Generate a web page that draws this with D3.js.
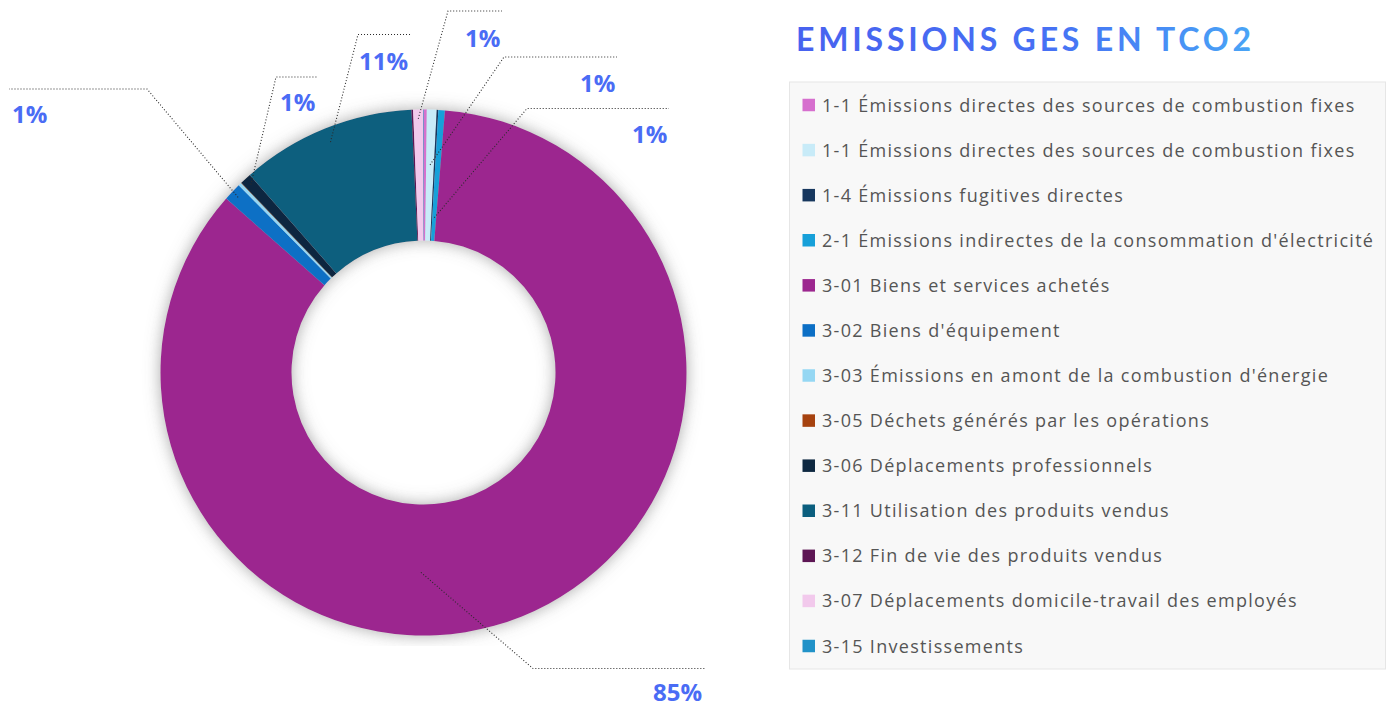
<!DOCTYPE html>
<html>
<head>
<meta charset="utf-8">
<script src="https://cdn.jsdelivr.net/npm/d3@7"></script>
<style>
  html, body { margin: 0; padding: 0; background: #ffffff; }
  svg { display: block; }
</style>
</head>
<body>
<svg id="chart" width="1391" height="708"></svg>
<script>
// ---------- DATA ----------
const categories = [
  "1-1 Émissions directes des sources de combustion fixes",
  "1-1 Émissions directes des sources de combustion fixes",
  "1-4 Émissions fugitives directes",
  "2-1 Émissions indirectes de la consommation d'électricité",
  "3-01 Biens et services achetés",
  "3-02 Biens d'équipement",
  "3-03 Émissions en amont de la combustion d'énergie",
  "3-05 Déchets générés par les opérations",
  "3-06 Déplacements professionnels",
  "3-11 Utilisation des produits vendus",
  "3-12 Fin de vie des produits vendus",
  "3-07 Déplacements domicile-travail des employés",
  "3-15 Investissements"
];
// share of total emissions (%)
const values = [0.2, 0.6, 0.1, 0.4, 85.2, 1.1, 0.2, 0.02, 0.7, 10.75, 0.1, 0.6, 0.03];
const colors = [
  "#d66fce", "#c8ebf8", "#17375e", "#17a0d9", "#9c278f", "#0c6fc5",
  "#95d7f3", "#a6420f", "#0e2841", "#0b5e7e", "#5d1654", "#f2c9ec", "#2192c8"
];
// which slices carry a data label, and the label text
const labelIndex = [5, 8, 9, 11, 1, 3, 4];
const labelText  = ["1%", "1%", "11%", "1%", "1%", "1%", "85%"];
const titleText = "EMISSIONS GES EN TCO2";

// ---------- LAYOUT (annotation placement) ----------
const cx = 423.5, cy = 372.5, R = 263, r0 = 132;
const labelLayout = [
  { rf: 0.97,  t: 0.5,   elbow: [147, 89],   end: [9, 89],     tx: 12,  ty: 123 },
  { rf: 0.97,  t: 0.5,   elbow: [276, 77],   end: [317, 77],   tx: 280, ty: 111 },
  { rf: 0.945, t: 0.5,   elbow: [358, 34.5], end: [411, 34.5], tx: 359, ty: 70 },
  { rf: 0.965, t: 0.5,   elbow: [448, 11],   end: [502, 11],   tx: 465, ty: 46.5 },
  { rf: 0.79,  t: 0.5,   elbow: [504, 57],   end: [617, 57],   tx: 580, ty: 91.5 },
  { rf: 0.59,  t: 0.5,   elbow: [527, 108.5],end: [669, 108.5],tx: 632, ty: 143 },
  { rf: 0.76,  t: 0.574, elbow: [533, 668.5],end: [705, 668.5],tx: 653, ty: 701 }
];

const svg = d3.select("#chart");
const defs = svg.append("defs");

// soft shadow behind donut, clipped to plot area
const f = defs.append("filter").attr("id", "shadow")
  .attr("filterUnits", "userSpaceOnUse")
  .attr("x", 140).attr("y", 82).attr("width", 565).attr("height", 564);
f.append("feGaussianBlur").attr("in", "SourceAlpha").attr("stdDeviation", 8).attr("result", "b");
f.append("feFlood").attr("flood-color", "#6e6e6e").attr("flood-opacity", 0.6).attr("result", "c");
f.append("feComposite").attr("in", "c").attr("in2", "b").attr("operator", "in").attr("result", "s");
const fm = f.append("feMerge");
fm.append("feMergeNode").attr("in", "s");
fm.append("feMergeNode").attr("in", "SourceGraphic");

// title gradient
const g1 = defs.append("linearGradient").attr("id", "tgrad")
  .attr("gradientUnits", "userSpaceOnUse").attr("x1", 796).attr("x2", 1251).attr("y1", 0).attr("y2", 0);
g1.append("stop").attr("offset", 0).attr("stop-color", "#4862ef");
g1.append("stop").attr("offset", 0.55).attr("stop-color", "#4670f4");
g1.append("stop").attr("offset", 1).attr("stop-color", "#49a4f6");

// ---------- DONUT ----------
const pie = d3.pie().sort(null).value(d => d).startAngle(0).endAngle(2 * Math.PI);
const arcs = pie(values);
const arc = d3.arc().innerRadius(r0).outerRadius(R);

const shadowG = svg.append("g").attr("filter", "url(#shadow)");
const donut = shadowG.append("g").attr("transform", `translate(${cx},${cy})`);
donut.selectAll("path").data(arcs).join("path")
  .attr("d", arc)
  .attr("fill", (d, i) => colors[i]);

// ---------- LABELS + LEADERS ----------
const lg = svg.append("g");
labelIndex.forEach((si, k) => {
  const a = arcs[si];
  const L = labelLayout[k];
  const ang = a.startAngle + (a.endAngle - a.startAngle) * L.t;
  const rr = R * L.rf;
  const ax = cx + rr * Math.sin(ang), ay = cy - rr * Math.cos(ang);
  lg.append("path")
    .attr("d", d3.line()([[ax, ay], L.elbow, L.end]))
    .attr("fill", "none").attr("stroke", "#2b2b2b").attr("stroke-width", 1.1)
    .attr("stroke-dasharray", "1 2");
  lg.append("text")
    .attr("x", L.tx).attr("y", L.ty)
    .attr("font-family", "'Open Sans', sans-serif").attr("font-weight", 700)
    .attr("font-size", 24).attr("fill", "#4a6cf5")
    .text(labelText[k]);
});

// ---------- TITLE ----------
svg.append("text")
  .attr("x", 796).attr("y", 51)
  .attr("font-family", "Lato, 'Open Sans', sans-serif").attr("font-weight", 700)
  .attr("font-size", 32)
  .attr("textLength", 455).attr("lengthAdjust", "spacing")
  .attr("fill", "url(#tgrad)")
  .text(titleText);

// ---------- LEGEND ----------
const legend = svg.append("g");
legend.append("rect")
  .attr("x", 789.5).attr("y", 82).attr("width", 596).attr("height", 587)
  .attr("fill", "#f8f8f8").attr("stroke", "#e6e6e6").attr("stroke-width", 1);
const rowY = d3.scalePoint().domain(d3.range(categories.length)).range([105, 646]);
const items = legend.selectAll("g.item").data(categories).join("g").attr("class", "item")
  .attr("transform", (d, i) => `translate(0,${rowY(i)})`);
items.append("rect")
  .attr("x", 802.5).attr("y", -6.25).attr("width", 12.5).attr("height", 12.5)
  .attr("fill", (d, i) => colors[i]);
items.append("text")
  .attr("x", 822).attr("y", 6.5)
  .attr("font-family", "'Open Sans', sans-serif").attr("font-size", 18)
  .attr("letter-spacing", 1.3)
  .attr("fill", "#555555")
  .text(d => d);
</script>
</body>
</html>
